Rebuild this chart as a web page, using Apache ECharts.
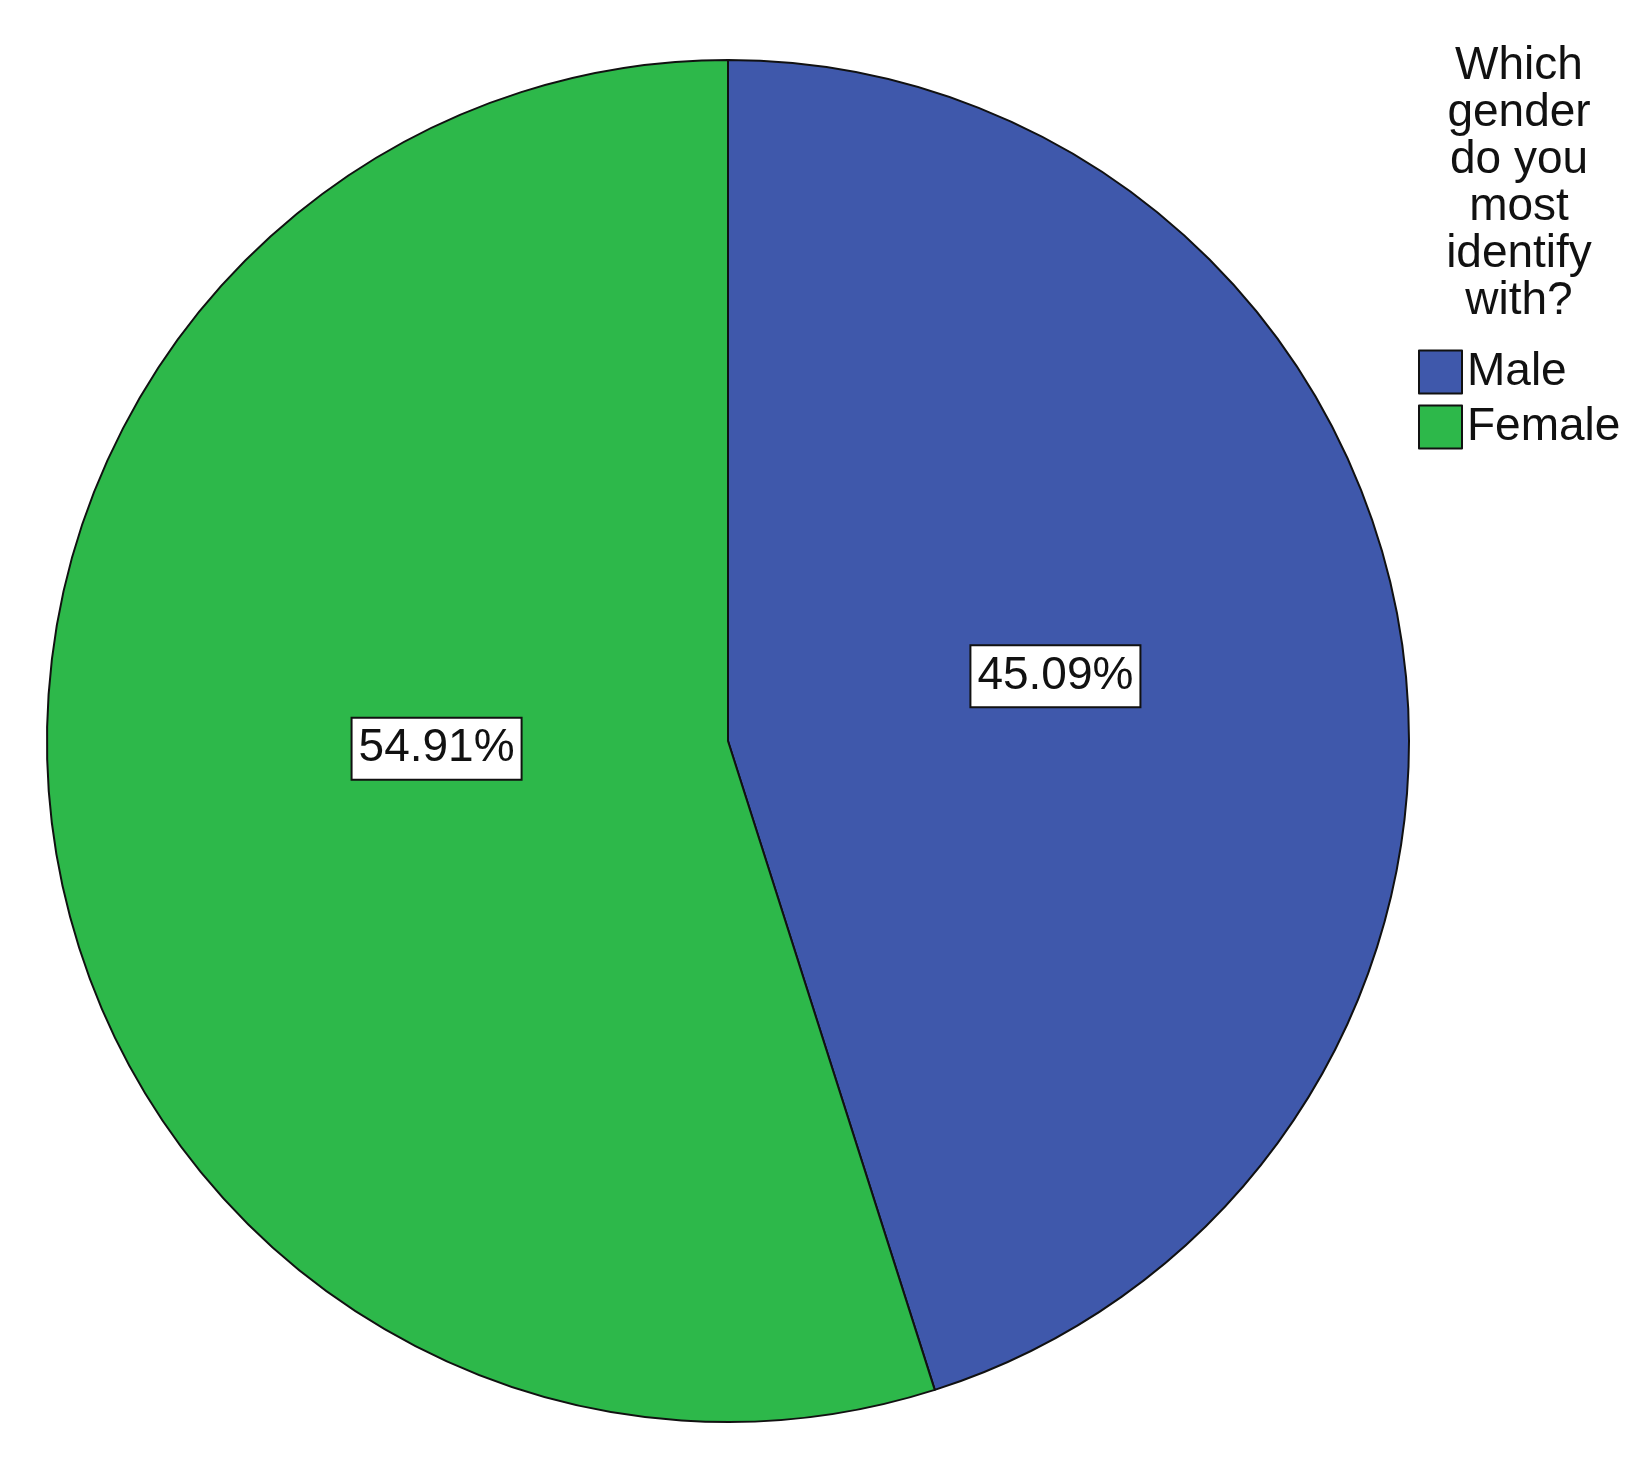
<!DOCTYPE html>
<html>
<head>
<meta charset="utf-8">
<script src="https://cdn.jsdelivr.net/npm/echarts@6/dist/echarts.min.js"></script>
<style>
html,body{margin:0;padding:0;background:#fff;}
#c{width:1648px;height:1462px;}
</style>
</head>
<body>
<div id="c"></div>
<script>
const categories = ["Male", "Female"];
const percents = [45.09, 54.91];
const legendTitle = "Which\ngender\ndo you\nmost\nidentify\nwith?";
const colors = ["#3F58AB", "#2DB84A"];
const labelOffsets = [[-12, -12], [48, -45]];

const chart = echarts.init(document.getElementById('c'), null, {renderer: 'canvas'});
const fontFamily = '"Liberation Sans", Arial, sans-serif';
chart.setOption({
  backgroundColor: '#ffffff',
  animation: false,
  title: {
    text: legendTitle,
    left: 1514,
    top: 38,
    textAlign: 'center',
    textStyle: {
      fontFamily: fontFamily,
      fontSize: 46,
      fontWeight: 'normal',
      color: '#111',
      lineHeight: 47,
      align: 'center'
    }
  },
  legend: {
    orient: 'vertical',
    left: 1413,
    top: 344,
    icon: 'rect',
    itemWidth: 43,
    itemHeight: 43,
    itemGap: 9,
    data: categories,
    itemStyle: {borderColor: '#111', borderWidth: 2},
    textStyle: {fontFamily: fontFamily, fontSize: 46, color: '#111', padding: [0, 0, 0, 0]}
  },
  series: [{
    type: 'pie',
    center: [728, 741],
    radius: [0, 681],
    startAngle: 90,
    clockwise: true,
    silent: true,
    itemStyle: {borderColor: '#111', borderWidth: 2},
    label: {
      show: true,
      position: 'inside',
      formatter: p => p.value.toFixed(2) + '%',
      fontFamily: fontFamily,
      fontSize: 46,
      color: '#111',
      backgroundColor: '#fff',
      borderColor: '#111',
      borderWidth: 2,
      padding: [8, 6, 6, 6]
    },
    labelLine: {show: false},
    data: categories.map((c, i) => ({
      name: c,
      value: percents[i],
      itemStyle: {color: colors[i]},
      label: {offset: labelOffsets[i]}
    }))
  }]
});
</script>
</body>
</html>
